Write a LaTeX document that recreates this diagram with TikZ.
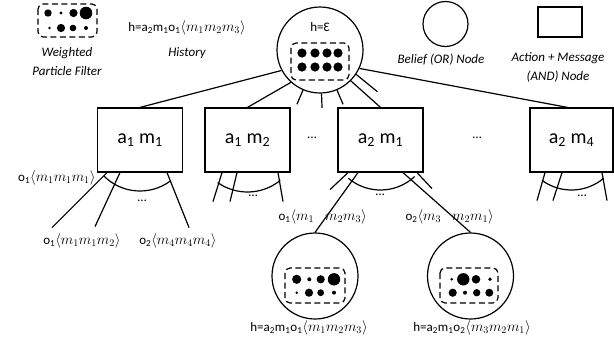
\documentclass[tikz,border=0pt]{standalone}
\usepackage{fix-cm}
\usepackage{fontspec}
\setmainfont{Carlito}
\usetikzlibrary{calc}
\newcommand\sbs[1]{\textsubscript{#1}}
\newcommand\ob[3]{{\fontsize{14.5}{15}\selectfont$\langle m_{#1}m_{#2}m_{#3}\rangle$}}
\newcommand\mm[1]{{\fontsize{14.5}{15}\selectfont$#1$}}
\begin{document}
\begin{tikzpicture}[x=1pt,y=1pt,line width=1.2pt,
  belief/.style={draw,circle,minimum size=86pt,inner sep=0pt},
  andbox/.style={draw,rectangle,minimum width=85pt,minimum height=64pt,inner sep=0pt,font=\fontsize{20}{24}\selectfont},
  pf/.style={draw,dash pattern=on 6pt off 3.5pt,rounded corners=5pt},
  lbl/.style={font=\fontsize{13}{15}\selectfont,inner sep=0pt},
  ital/.style={font=\fontsize{13}{19}\selectfont\itshape,align=center,inner sep=0pt},
  dotsl/.style={font=\fontsize{13}{15}\selectfont,inner sep=0pt},
]
\useasboundingbox (0,0) rectangle (614,-341);

% ---------- legend ----------
\draw[pf] (38,-4) rectangle (97,-37);
\foreach \x/\y/\r in {48/13/3.7, 61/13/1.7, 73.5/13/4.1, 86/13/6.3,
                      49.5/28/1.4, 61/28/4.1, 73/28/3.3, 86/28/2}
  \fill (\x,-\y) circle (\r);
\node[ital] (lpf) at (67,-62) {Weighted\\Particle Filter};
\node[lbl] (lhist) at (187,-28) {h=a\sbs2m\sbs1o\sbs1\ob123};
\node[ital] (lhistt) at (187,-53) {History};
\node[belief,minimum size=45pt] (lcirc) at (445.5,-24) {};
\node[ital] (lcirct) at (441,-60) {Belief (OR) Node};
\node[draw,rectangle,minimum width=44pt,minimum height=30pt,inner sep=0pt] (lrect) at (560,-22) {};
\node[ital] (lrectt) at (558,-67) {Action + Message\\(AND) Node};

% ---------- root ----------
\node[belief] (root) at (320,-50) {};
\node[lbl] (rooth) at (320,-27) {h=Ɛ};
\draw[pf] (291,-43) rectangle (349,-80);
\foreach \x in {302,315,327,338}
  \foreach \y in {53,67}
    \fill (\x,-\y) circle (4.6);

% ---------- AND nodes ----------
\node[andbox] (a11) at (140,-140) {a\sbs1 m\sbs1};
\node[andbox] (a12) at (247.5,-140) {a\sbs1 m\sbs2};
\node[andbox] (a21) at (380.5,-140) {a\sbs2 m\sbs1};
\node[andbox,minimum width=83pt] (a24) at (571.5,-140) {a\sbs2 m\sbs4};
\node[dotsl] (d1) at (312,-138) {…};
\node[dotsl] (d2) at (477,-138) {…};

% root edges
\draw (root.-152) -- (a11.north);
\draw (root.-132) -- (a12.north);
\draw (root.-45) -- (a21.north);
\draw (root.-25) -- ([xshift=-4pt]a24.north);
\draw (root.-113) -- ($(root.center)+(-113:59)$);
\draw (root.-88) -- ($(root.center)+(-88:58)$);
\draw (root.-67) -- ($(root.center)+(-67:59)$);
\draw (root.-34) -- ($(root.center)+(-36:71)$);

% a1 m1 children
\draw ([xshift=-33pt]a11.south) -- ++(-55,-55);
\draw ([xshift=-20pt]a11.south) -- ++(-25,-54);
\draw ([xshift=27pt]a11.south) -- ++(22,-55);
\draw ($(a11.center)+(-135:51)$) arc[start angle=-135,end angle=-54,radius=51];
\node[dotsl] (d11) at (142,-201) {…};
\node[lbl,anchor=east] (l111) at (96,-178) {o\sbs1\ob111};
\node[lbl] (l112) at (82,-241) {o\sbs1\ob112};
\node[lbl] (l244) at (178,-241) {o\sbs2\ob444};

% a1 m2 children
\draw ([xshift=-25.5pt]a12.south) -- ++(-9,-29);
\draw ([xshift=-10.5pt]a12.south) -- ++(-7,-29);
\draw ([xshift=30.5pt]a12.south) -- ++(5,-29);
\draw ($(a12.center)+(-125:52)$) arc[start angle=-125,end angle=-51,radius=52];
\node[dotsl] (d12) at (253,-196) {…};

% a2 m1 children
\node[belief] (c1) at (315,-276) {};
\node[belief] (c2) at (470.5,-276) {};
\draw ([xshift=-32.5pt]a21.south) -- ++(-18,-17);
\draw ([xshift=36.5pt]a21.south) -- ++(15,-16);
\draw ($(a21.center)+(-130:50)$) arc[start angle=-130,end angle=-47,radius=50];
\node[dotsl] (d21) at (380,-195) {…};
\node[lbl,anchor=west] (l1) at (278,-217) {o\sbs1\mm{\langle m_1}\hspace{11pt}\mm{m_2m_3\rangle}};
\node[lbl,anchor=west] (l2) at (405,-217) {o\sbs2\mm{\langle m_3}\hspace{11pt}\mm{m_2m_1\rangle}};
\draw ([xshift=-22.5pt]a21.south) -- (c1.north);
\draw ([xshift=22.5pt]a21.south) -- (c2.north);

% child belief contents
\draw[pf] (285,-268) rectangle (345,-303);
\foreach \x/\y/\r in {296.7/279.3/4.6, 309.3/279.3/2, 320.7/279.3/4.1, 334/279.3/6.2,
                      296.7/292.7/1.4, 309/292.7/4.1, 320.7/292.7/3.4, 334/292.7/2}
  \fill (\x,-\y) circle (\r);
\draw[pf] (440,-268) rectangle (498,-303);
\foreach \x/\y/\r in {451.7/279.3/1.4, 463.3/279.3/6.2, 476/279.3/4.3, 490/279.3/1.9,
                      452.7/292.7/4.1, 465/292.7/2, 476.7/292.7/3.7, 489.3/292.7/4}
  \fill (\x,-\y) circle (\r);
\node[lbl] (c1t) at (309,-328) {h=a\sbs2m\sbs1o\sbs1\ob123};
\node[lbl] (c2t) at (472,-328) {h=a\sbs2m\sbs1o\sbs2\ob321};

% a2 m4 children
\draw ([xshift=-26.5pt]a24.south) -- ++(-8,-28);
\draw ([xshift=-9.5pt]a24.south) -- ++(-9,-28);
\draw ([xshift=30.5pt]a24.south) -- ++(5,-28);
\draw ($(a24.center)+(-126:50)$) arc[start angle=-126,end angle=-50,radius=50];
\node[dotsl] (d24) at (582,-196) {…};
\end{tikzpicture}
\end{document}
